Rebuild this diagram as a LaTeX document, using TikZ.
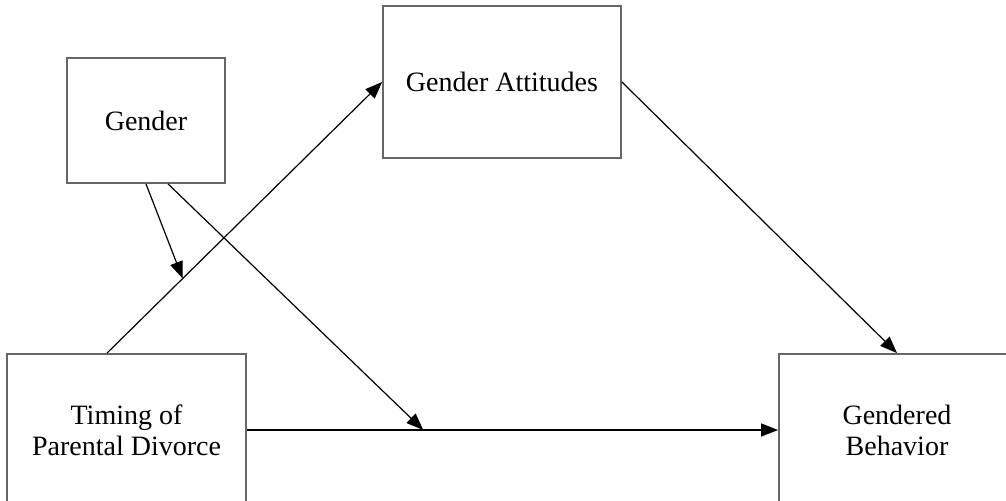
\documentclass[tikz,border=0pt]{standalone}
\usepackage{fontspec}
\setmainfont{Liberation Serif}
\usetikzlibrary{arrows.meta}

\begin{document}
\begin{tikzpicture}[x=0.5pt,y=-0.5pt,
    varbox/.style={draw=black!60,line width=0.9pt,align=center,inner sep=0pt,
      font=\fontsize{14}{15.5}\selectfont},
    path/.style={line width=0.6pt,-{Triangle[length=8.5pt,width=6.5pt]}}]
    \useasboundingbox (0,0) rectangle (1006,501);
    %--- variables ---
    \node[varbox,minimum width=79pt,minimum height=62.5pt] (gender) at (146,120.5) {Gender};
    \node[varbox,minimum width=119pt,minimum height=76pt] (att) at (502,82) {Gender Attitudes};
    \node[varbox,minimum width=119.5pt,minimum height=76pt] (timing) at (126.5,430) {Timing of\\Parental Divorce};
    \node[varbox,minimum width=118pt,minimum height=76pt] (behav) at (897,430) {Gendered\\Behavior};
    %--- paths ---
    \draw[path] ([xshift=-9.75pt]timing.north) -- coordinate[pos=0.275] (m1) (att.west);
    \draw[path] (att.east) -- (behav.north);
    \draw[path] (timing.east) -- coordinate[pos=0.332] (m2) (behav.west);
    %--- moderation by gender ---
    \draw[path] (gender.south) -- (m1);
    \draw[path] ([xshift=11pt]gender.south) -- (m2);
\end{tikzpicture}
\end{document}
